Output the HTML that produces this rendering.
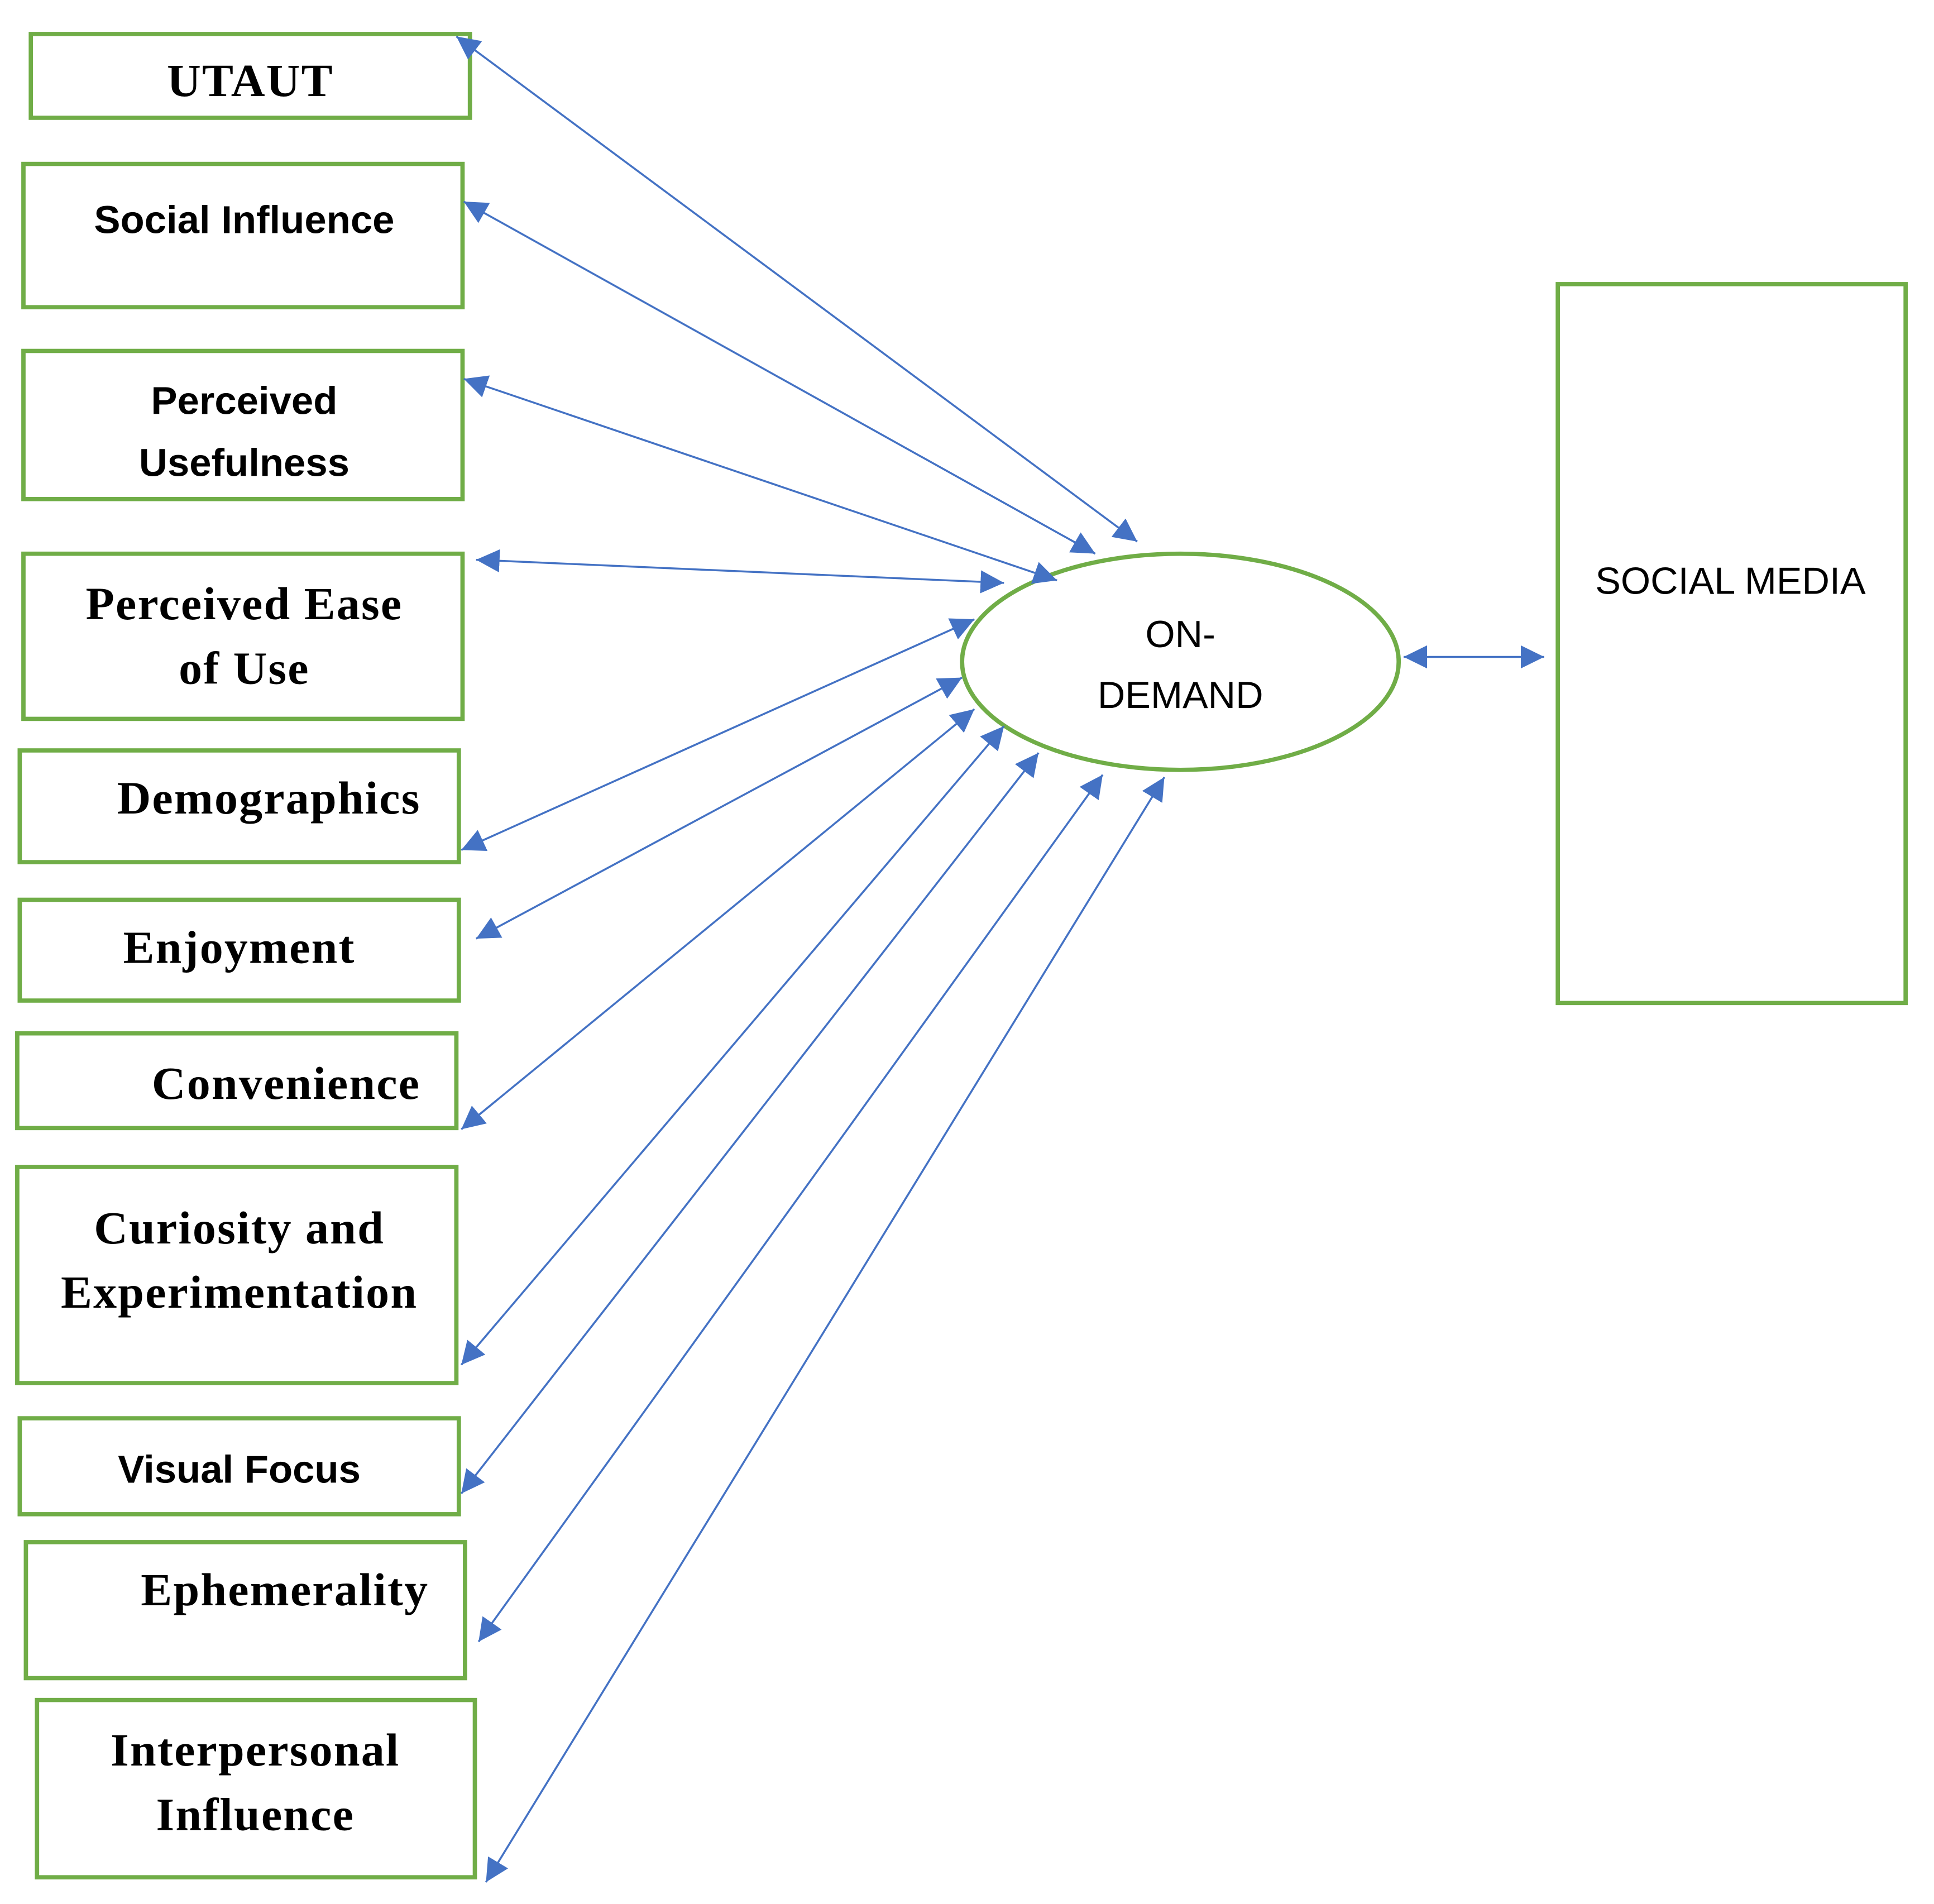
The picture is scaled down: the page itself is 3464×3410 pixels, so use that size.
<!DOCTYPE html>
<html><head><meta charset="utf-8"><style>
html,body{margin:0;padding:0;background:#fff;}
svg{display:block;}
.s{font-family:"Liberation Serif",serif;font-weight:bold;font-size:38px;letter-spacing:1px;fill:#000;}
.a{font-family:"Liberation Sans",sans-serif;font-weight:bold;font-size:32px;fill:#000;}
.n{font-family:"Liberation Sans",sans-serif;font-size:31px;fill:#000;}
rect,ellipse{fill:#fff;stroke:#70ad47;stroke-width:3.5;}
line{stroke:#4472c4;stroke-width:1.6;}
</style></head><body>
<svg width="3464" height="3410" viewBox="0 0 1568 1568" preserveAspectRatio="none" xmlns="http://www.w3.org/2000/svg">
<defs>
<marker id="m" viewBox="0 0 10 10" refX="10" refY="5" markerWidth="19" markerHeight="19" markerUnits="userSpaceOnUse" orient="auto-start-reverse">
<path d="M0,0 L10,5 L0,10 z" fill="#4472c4"/>
</marker>
</defs>
<rect x="25" y="28" width="356" height="69"/>
<rect x="19" y="135" width="356" height="118"/>
<rect x="19" y="289" width="356" height="122"/>
<rect x="19" y="456" width="356" height="136"/>
<rect x="16" y="618" width="356" height="92"/>
<rect x="16" y="741" width="356" height="83"/>
<rect x="14" y="851" width="356" height="78"/>
<rect x="14" y="961" width="356" height="178"/>
<rect x="16" y="1168" width="356" height="79"/>
<rect x="21" y="1270" width="356" height="112"/>
<rect x="30" y="1400" width="355" height="146"/>
<rect x="1263" y="234" width="282" height="592"/>
<ellipse cx="957" cy="545" rx="177" ry="89"/>

<text class="s" x="203" y="79" text-anchor="middle">UTAUT</text>
<text class="a" x="198" y="192" text-anchor="middle">Social Influence</text>
<text class="a" x="198" y="341" text-anchor="middle">Perceived</text>
<text class="a" x="198" y="392" text-anchor="middle">Usefulness</text>
<text class="s" x="198" y="510" text-anchor="middle">Perceived Ease</text>
<text class="s" x="198" y="563" text-anchor="middle">of Use</text>
<text class="s" x="218" y="670" text-anchor="middle">Demographics</text>
<text class="s" x="194" y="793" text-anchor="middle">Enjoyment</text>
<text class="s" x="232" y="905" text-anchor="middle">Convenience</text>
<text class="s" x="194" y="1024" text-anchor="middle">Curiosity and</text>
<text class="s" x="194" y="1077" text-anchor="middle">Experimentation</text>
<text class="a" x="194" y="1221" text-anchor="middle">Visual Focus</text>
<text class="s" x="231" y="1322" text-anchor="middle">Ephemerality</text>
<text class="s" x="207" y="1454" text-anchor="middle">Interpersonal</text>
<text class="s" x="207" y="1507" text-anchor="middle">Influence</text>
<text class="n" x="1403" y="489" text-anchor="middle">SOCIAL MEDIA</text>
<text class="n" x="957" y="533" text-anchor="middle">ON-</text>
<text class="n" x="957" y="583" text-anchor="middle">DEMAND</text>

<g marker-start="url(#m)" marker-end="url(#m)">
<line x1="370" y1="30" x2="922" y2="446"/>
<line x1="376" y1="166" x2="888" y2="456"/>
<line x1="376" y1="312" x2="857" y2="478"/>
<line x1="386" y1="461" x2="814" y2="480"/>
<line x1="374" y1="700" x2="790" y2="510"/>
<line x1="386" y1="773" x2="780" y2="558"/>
<line x1="374" y1="930" x2="790" y2="584"/>
<line x1="374" y1="1124" x2="814" y2="598"/>
<line x1="374" y1="1230" x2="842" y2="620"/>
<line x1="388" y1="1352" x2="894" y2="638"/>
<line x1="394" y1="1550" x2="944" y2="640"/>
<line x1="1138" y1="541" x2="1252" y2="541"/>
</g>
</svg>
</body></html>
